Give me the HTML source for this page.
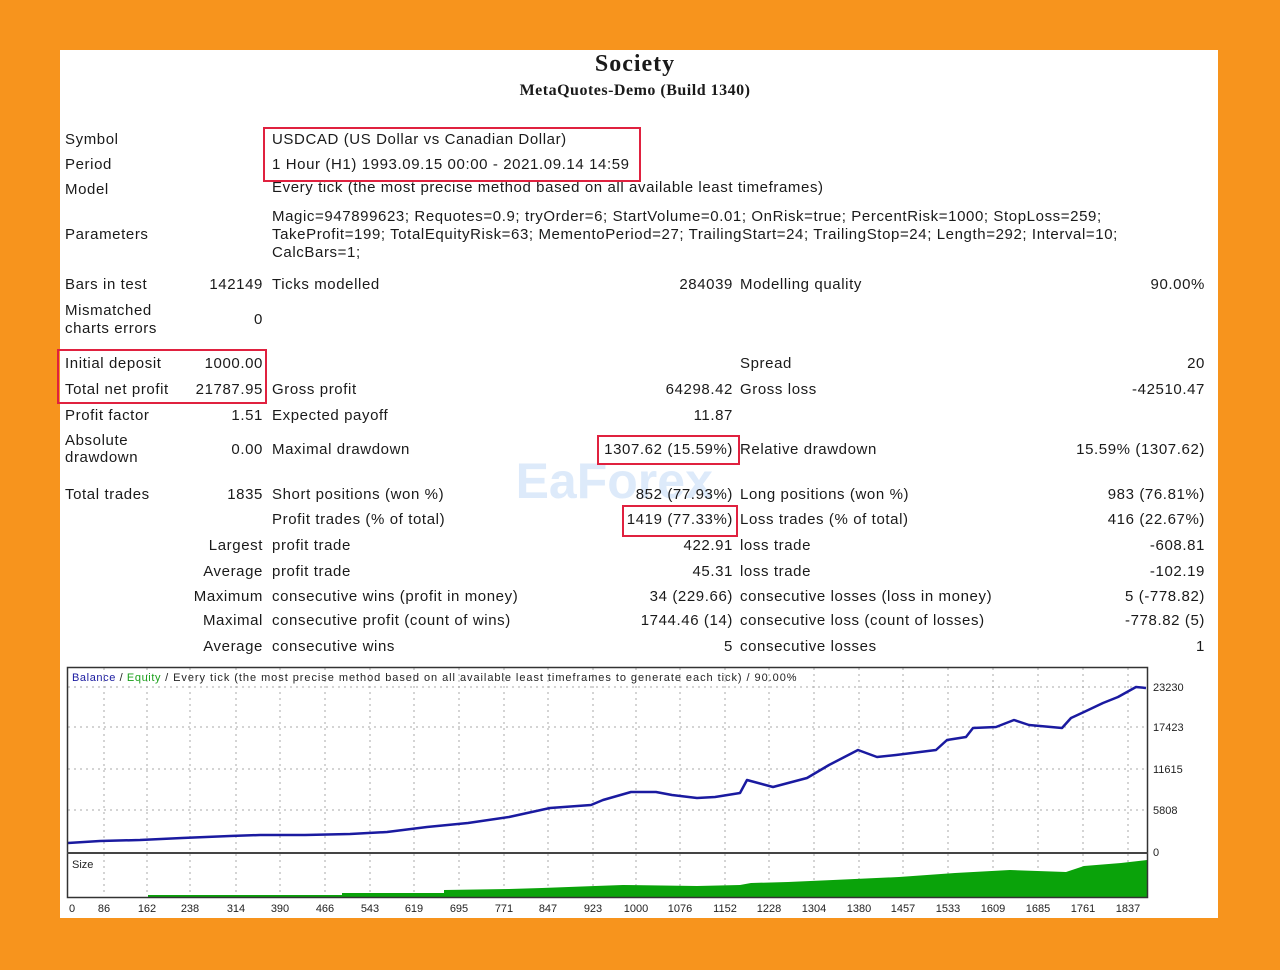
<!DOCTYPE html>
<html><head><meta charset="utf-8"><style>
body{margin:0;background:#f7941d;width:1280px;height:970px;overflow:hidden;position:relative;font-family:"Liberation Sans","DejaVu Sans",sans-serif;}
#p{position:absolute;left:60px;top:50px;width:1158px;height:868px;background:#fff;}
.t{position:absolute;font-size:15px;letter-spacing:0.6px;color:#1a1a1a;white-space:nowrap;line-height:16px;}
.r{text-align:right;}
.box{position:absolute;border:2px solid #e0213f;}
</style></head><body>
<div id="p"></div>
<div class="t" style="left:0;width:1270px;text-align:center;top:50px;font-family:'Liberation Serif',serif;font-weight:bold;font-size:24px;line-height:28px;letter-spacing:1px">Society</div>
<div class="t" style="left:0;width:1270px;text-align:center;top:81px;font-family:'Liberation Serif',serif;font-weight:bold;font-size:16px;line-height:20px;letter-spacing:0.5px">MetaQuotes-Demo (Build 1340)</div>

<div class="t" style="left:460px;top:452px;font-size:50px;line-height:58px;letter-spacing:0;color:rgba(120,170,235,0.25);font-weight:bold">&nbsp;&nbsp;&nbsp;&nbsp;EaForex</div>

<div class="t" style="left:65px;top:132px">Symbol</div>
<div class="t" style="left:272px;top:132px">USDCAD (US Dollar vs Canadian Dollar)</div>
<div class="t" style="left:65px;top:157px">Period</div>
<div class="t" style="left:272px;top:157px">1 Hour (H1) 1993.09.15 00:00 - 2021.09.14 14:59</div>
<div class="t" style="left:65px;top:182px">Model</div>
<div class="t" style="left:272px;top:180px">Every tick (the most precise method based on all available least timeframes)</div>
<div class="t" style="left:65px;top:227px">Parameters</div>
<div class="t" style="left:272px;top:209px">Magic=947899623; Requotes=0.9; tryOrder=6; StartVolume=0.01; OnRisk=true; PercentRisk=1000; StopLoss=259;</div>
<div class="t" style="left:272px;top:227px">TakeProfit=199; TotalEquityRisk=63; MementoPeriod=27; TrailingStart=24; TrailingStop=24; Length=292; Interval=10;</div>
<div class="t" style="left:272px;top:245px">CalcBars=1;</div>

<div class="t" style="left:65px;top:277px">Bars in test</div>
<div class="t r" style="left:163px;width:100px;top:277px">142149</div>
<div class="t" style="left:272px;top:277px">Ticks modelled</div>
<div class="t r" style="left:580px;width:153px;top:277px">284039</div>
<div class="t" style="left:740px;top:277px">Modelling quality</div>
<div class="t r" style="left:1000px;width:205px;top:277px">90.00%</div>
<div class="t" style="left:65px;top:303px">Mismatched</div>
<div class="t" style="left:65px;top:321px">charts errors</div>
<div class="t r" style="left:163px;width:100px;top:312px">0</div>

<div class="t" style="left:740px;top:356px">Spread</div>
<div class="t r" style="left:1000px;width:205px;top:356px">20</div>
<div class="t" style="left:65px;top:356px">Initial deposit</div>
<div class="t r" style="left:163px;width:100px;top:356px">1000.00</div>
<div class="t" style="left:65px;top:382px">Total net profit</div>
<div class="t r" style="left:163px;width:100px;top:382px">21787.95</div>
<div class="t" style="left:272px;top:382px">Gross profit</div>
<div class="t r" style="left:580px;width:153px;top:382px">64298.42</div>
<div class="t" style="left:740px;top:382px">Gross loss</div>
<div class="t r" style="left:1000px;width:205px;top:382px">-42510.47</div>
<div class="t" style="left:65px;top:408px">Profit factor</div>
<div class="t r" style="left:163px;width:100px;top:408px">1.51</div>
<div class="t" style="left:272px;top:408px">Expected payoff</div>
<div class="t r" style="left:580px;width:153px;top:408px">11.87</div>
<div class="t" style="left:65px;top:433px">Absolute</div>
<div class="t" style="left:65px;top:450px">drawdown</div>
<div class="t r" style="left:163px;width:100px;top:442px">0.00</div>
<div class="t" style="left:272px;top:442px">Maximal drawdown</div>
<div class="t r" style="left:580px;width:153px;top:442px">1307.62 (15.59%)</div>
<div class="t" style="left:740px;top:442px">Relative drawdown</div>
<div class="t r" style="left:1000px;width:205px;top:442px">15.59% (1307.62)</div>

<div class="t" style="left:65px;top:487px">Total trades</div>
<div class="t r" style="left:163px;width:100px;top:487px">1835</div>
<div class="t" style="left:272px;top:487px">Short positions (won %)</div>
<div class="t r" style="left:580px;width:153px;top:487px">852 (77.93%)</div>
<div class="t" style="left:740px;top:487px">Long positions (won %)</div>
<div class="t r" style="left:1000px;width:205px;top:487px">983 (76.81%)</div>
<div class="t" style="left:272px;top:512px">Profit trades (% of total)</div>
<div class="t r" style="left:580px;width:153px;top:512px">1419 (77.33%)</div>
<div class="t" style="left:740px;top:512px">Loss trades (% of total)</div>
<div class="t r" style="left:1000px;width:205px;top:512px">416 (22.67%)</div>
<div class="t r" style="left:100px;width:163px;top:538px">Largest</div>
<div class="t" style="left:272px;top:538px">profit trade</div>
<div class="t r" style="left:580px;width:153px;top:538px">422.91</div>
<div class="t" style="left:740px;top:538px">loss trade</div>
<div class="t r" style="left:1000px;width:205px;top:538px">-608.81</div>
<div class="t r" style="left:100px;width:163px;top:564px">Average</div>
<div class="t" style="left:272px;top:564px">profit trade</div>
<div class="t r" style="left:580px;width:153px;top:564px">45.31</div>
<div class="t" style="left:740px;top:564px">loss trade</div>
<div class="t r" style="left:1000px;width:205px;top:564px">-102.19</div>
<div class="t r" style="left:100px;width:163px;top:589px">Maximum</div>
<div class="t" style="left:272px;top:589px">consecutive wins (profit in money)</div>
<div class="t r" style="left:580px;width:153px;top:589px">34 (229.66)</div>
<div class="t" style="left:740px;top:589px">consecutive losses (loss in money)</div>
<div class="t r" style="left:1000px;width:205px;top:589px">5 (-778.82)</div>
<div class="t r" style="left:100px;width:163px;top:613px">Maximal</div>
<div class="t" style="left:272px;top:613px">consecutive profit (count of wins)</div>
<div class="t r" style="left:580px;width:153px;top:613px">1744.46 (14)</div>
<div class="t" style="left:740px;top:613px">consecutive loss (count of losses)</div>
<div class="t r" style="left:1000px;width:205px;top:613px">-778.82 (5)</div>
<div class="t r" style="left:100px;width:163px;top:639px">Average</div>
<div class="t" style="left:272px;top:639px">consecutive wins</div>
<div class="t r" style="left:580px;width:153px;top:639px">5</div>
<div class="t" style="left:740px;top:639px">consecutive losses</div>
<div class="t r" style="left:1000px;width:205px;top:639px">1</div>

<div class="box" style="left:263px;top:127px;width:374px;height:51px"></div>
<div class="box" style="left:57px;top:349px;width:206px;height:51px"></div>
<div class="box" style="left:597px;top:435px;width:139px;height:26px"></div>
<div class="box" style="left:622px;top:505px;width:112px;height:28px"></div>

<svg style="position:absolute;left:0;top:0" width="1280" height="970" font-family="Liberation Sans, sans-serif" font-size="11">
<g stroke="#aaa" stroke-dasharray="2,4" stroke-width="1">
<line x1="68" x2="1147" y1="687" y2="687"/><line x1="68" x2="1147" y1="727" y2="727"/>
<line x1="68" x2="1147" y1="769" y2="769"/><line x1="68" x2="1147" y1="810" y2="810"/>
<line x1="104" x2="104" y1="668" y2="896"/><line x1="147" x2="147" y1="668" y2="896"/><line x1="190" x2="190" y1="668" y2="896"/><line x1="236" x2="236" y1="668" y2="896"/><line x1="280" x2="280" y1="668" y2="896"/><line x1="325" x2="325" y1="668" y2="896"/><line x1="370" x2="370" y1="668" y2="896"/><line x1="414" x2="414" y1="668" y2="896"/><line x1="459" x2="459" y1="668" y2="896"/><line x1="504" x2="504" y1="668" y2="896"/><line x1="548" x2="548" y1="668" y2="896"/><line x1="593" x2="593" y1="668" y2="896"/><line x1="636" x2="636" y1="668" y2="896"/><line x1="680" x2="680" y1="668" y2="896"/><line x1="725" x2="725" y1="668" y2="896"/><line x1="769" x2="769" y1="668" y2="896"/><line x1="814" x2="814" y1="668" y2="896"/><line x1="859" x2="859" y1="668" y2="896"/><line x1="903" x2="903" y1="668" y2="896"/><line x1="948" x2="948" y1="668" y2="896"/><line x1="993" x2="993" y1="668" y2="896"/><line x1="1038" x2="1038" y1="668" y2="896"/><line x1="1083" x2="1083" y1="668" y2="896"/><line x1="1128" x2="1128" y1="668" y2="896"/>
</g>
<polygon fill="#0aa30a" points="148,897 148,895 342,895 342,893 444,893 444,890 509,889 542,888 595,886 623,885 697,886 740,885 751,883 788,882 833,880 899,877 955,873 1010,870 1066,872 1084,866 1121,863 1147,860 1147,897"/>
<polyline fill="none" stroke="#1a1aa0" stroke-width="2.5" stroke-linejoin="round" points="68,843 100,841 140,840 182,838 230,836 260,835 305,835 350,834 387,832 427,827 468,823 509,817 550,808 591,805 603,800 631,792 656,792 672,795 697,798 715,797 740,793 747,780 773,787 807,778 829,765 858,750 877,757 896,755 936,750 947,740 966,737 973,728 996,727 1014,720 1029,725 1062,728 1071,718 1084,712 1103,703 1118,697 1136,687 1146,688"/>
<rect x="67.5" y="667.5" width="1080" height="230" fill="none" stroke="#333" stroke-width="1.5"/>
<line x1="67" x2="1148" y1="853" y2="853" stroke="#444" stroke-width="2"/>
<text x="72" y="681" letter-spacing="0.6" fill="#1a1aa0">Balance<tspan fill="#222"> / </tspan><tspan fill="#1aa01a">Equity</tspan><tspan fill="#222" letter-spacing="0.95"> / Every tick (the most precise method based on all available least timeframes to generate each tick) / 90.00%</tspan></text>
<text x="72" y="868" fill="#222">Size</text>
<g fill="#222">
<text x="1153" y="691">23230</text><text x="1153" y="731">17423</text><text x="1153" y="773">11615</text><text x="1153" y="814">5808</text><text x="1153" y="856">0</text>
</g>
<g fill="#222" text-anchor="middle">
<text x="72" y="912">0</text><text x="104" y="912">86</text><text x="147" y="912">162</text><text x="190" y="912">238</text><text x="236" y="912">314</text><text x="280" y="912">390</text><text x="325" y="912">466</text><text x="370" y="912">543</text><text x="414" y="912">619</text><text x="459" y="912">695</text><text x="504" y="912">771</text><text x="548" y="912">847</text><text x="593" y="912">923</text><text x="636" y="912">1000</text><text x="680" y="912">1076</text><text x="725" y="912">1152</text><text x="769" y="912">1228</text><text x="814" y="912">1304</text><text x="859" y="912">1380</text><text x="903" y="912">1457</text><text x="948" y="912">1533</text><text x="993" y="912">1609</text><text x="1038" y="912">1685</text><text x="1083" y="912">1761</text><text x="1128" y="912">1837</text>
</g>
</svg>
</body></html>
